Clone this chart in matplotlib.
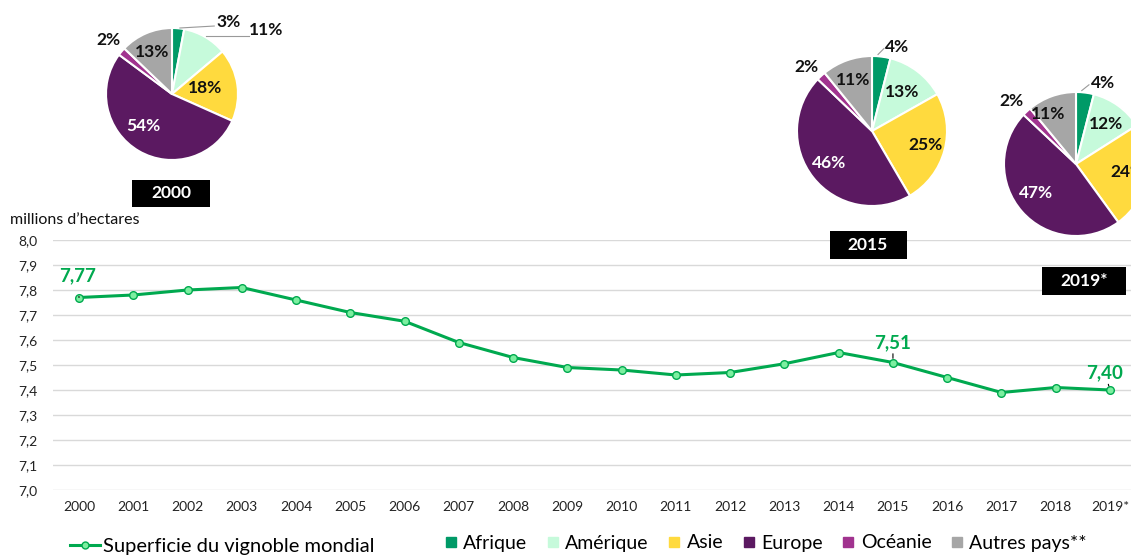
import matplotlib
matplotlib.use("Agg")
import matplotlib.pyplot as plt
from matplotlib.lines import Line2D
from matplotlib.patches import Rectangle

plt.rcParams['font.family'] = ['Lato', 'DejaVu Sans']

# ---------------- data ----------------
years = ["2000", "2001", "2002", "2003", "2004", "2005", "2006", "2007", "2008", "2009",
         "2010", "2011", "2012", "2013", "2014", "2015", "2016", "2017", "2018", "2019*"]
surface = [7.77, 7.78, 7.80, 7.81, 7.76, 7.71, 7.675, 7.59, 7.53, 7.49,
           7.48, 7.46, 7.47, 7.505, 7.55, 7.51, 7.45, 7.39, 7.41, 7.40]
highlight_idx = [0, 15, 19]
highlight_lbl = ["7,77", "7,51", "7,40"]

yticks = [7.0, 7.1, 7.2, 7.3, 7.4, 7.5, 7.6, 7.7, 7.8, 7.9, 8.0]
ytick_labels = ["7,0", "7,1", "7,2", "7,3", "7,4", "7,5", "7,6", "7,7", "7,8", "7,9", "8,0"]

regions = ["Afrique", "Amérique", "Asie", "Europe", "Océanie", "Autres pays**"]
pie_2000 = [3, 11, 18, 54, 2, 13]
pie_2015 = [4, 13, 25, 46, 2, 11]
pie_2019 = [4, 12, 24, 47, 2, 11]
pie_years = ["2000", "2015", "2019*"]

colors = ["#009a67", "#c6fadb", "#ffda3e", "#5b1961", "#a1338f", "#a6a6a6"]
green = "#00a94f"

W, H = 1131, 555
fig = plt.figure(figsize=(W / 100, H / 100), dpi=100)

def fx(px):
    return px / W

def fy(py):
    return 1 - py / H

# ---------------- line chart ----------------
x0px, stepx = 79, (1110 - 79) / 19
left_px, right_px = 53, 1131
ax = fig.add_axes([fx(left_px), fy(490), fx(right_px - left_px), 250 / H])
xs = list(range(len(years)))
ax.plot(xs, surface, color=green, lw=2.2, marker='o', ms=5.5,
        mfc="#7cefa0", mec=green, mew=1.0, zorder=3)
ax.set_xlim(-(x0px - left_px) / stepx, 19 + (right_px - 1110) / stepx)
ax.set_ylim(7.0, 8.0)
ax.set_yticks(yticks)
ax.set_yticklabels(ytick_labels)
ax.set_xticks(xs)
ax.set_xticklabels(years)
ax.tick_params(axis='both', length=0, labelsize=10, colors="#222222")
ax.tick_params(axis='y', pad=11)
ax.tick_params(axis='x', pad=8)
ax.grid(axis='y', color="#d9d9d9", lw=1)
ax.set_axisbelow(True)
for s in ax.spines.values():
    s.set_visible(False)

offsets = [(-1, 22), (0, 20), (-5, 17)]
for i, lbl, off in zip(highlight_idx, highlight_lbl, offsets):
    ax.annotate(lbl, xy=(xs[i], surface[i]), xytext=off, textcoords='offset pixels',
                ha='center', va='center', color=green, fontsize=13.5, fontweight='bold',
                arrowprops=dict(arrowstyle='-', color='black', lw=0.8,
                                shrinkA=7, shrinkB=3))

fig.text(fx(10), fy(220), "millions d\u2019hectares", fontsize=11.5, ha='left', va='center',
         color="#111111")

# ---------------- pies ----------------
pie_specs = [
    (pie_2000, (172, 94), 66,
     [(0.85, 1.09), (1.43, 0.97), (0.5, 0.09), (-0.44, -0.48), (-0.97, 0.82), (-0.30, 0.64)],
     (171, 193, 78, 27)),
    (pie_2015, (872, 131), 75,
     [(0.33, 1.12), (0.40, 0.52), (0.71, -0.19), (-0.57, -0.43), (-0.88, 0.85), (-0.25, 0.68)],
     (868, 245, 77, 28)),
    (pie_2019, (1076, 164), 72,
     [(0.375, 1.125), (0.42, 0.56), (0.72, -0.11), (-0.56, -0.40), (-0.89, 0.875), (-0.39, 0.69)],
     (1084, 281, 84, 28)),
]

leaders = {
    0: [((0.12, 1.0), (0.64, 1.03)), ((0.52, 0.88), (1.16, 0.88))],
    1: [((0.08, 1.02), (0.16, 1.1))],
    2: [((0.08, 1.02), (0.18, 1.1))],
}

for k, (vals, (cx, cy), r, lpos, box) in enumerate(pie_specs):
    pax = fig.add_axes([fx(cx - r), fy(cy + r), fx(2 * r), 2 * r / H])
    pax.pie(vals, colors=colors, startangle=90, counterclock=False, radius=1,
            wedgeprops=dict(edgecolor='white', linewidth=1.5))
    pax.set_xlim(-1, 1)
    pax.set_ylim(-1, 1)
    pax.set_aspect('equal')
    pax.axis('off')
    for j, (v, (lx, ly)) in enumerate(zip(vals, lpos)):
        col = 'white' if j == 3 else '#111111'
        pax.text(lx, ly, f"{v}%", ha='center', va='center', fontsize=12.5,
                 fontweight='bold', color=col, clip_on=False)
    for (a, b) in leaders[k]:
        pax.plot([a[0], b[0]], [a[1], b[1]], color="#999999", lw=0.8, clip_on=False)
    bx, by, bw, bh = box
    fig.patches.append(Rectangle((fx(bx - bw / 2), fy(by + bh / 2)), fx(bw), bh / H,
                                 transform=fig.transFigure, facecolor='black',
                                 edgecolor='none'))
    fig.text(fx(bx), fy(by), pie_years[k], ha='center', va='center', color='white',
             fontsize=12.5, fontweight='bold')

# ---------------- legends ----------------
h_line = [Line2D([0], [0], color=green, lw=2.2, marker='o', ms=5, mfc="#7cefa0",
                 mec=green)]
leg1 = fig.legend(h_line, ["Superficie du vignoble mondial"], loc='center left',
                  bbox_to_anchor=(fx(62), fy(546)), frameon=False, fontsize=14.5,
                  handlelength=1.5, handletextpad=0.15, borderaxespad=0)
h_sq = [Line2D([0], [0], color=c, marker='s', ls='none', ms=7) for c in colors]
leg2 = fig.legend(h_sq, regions, loc='center left', bbox_to_anchor=(fx(437), fy(543)),
                  ncol=6, frameon=False, fontsize=14, handlelength=0.6,
                  handletextpad=0.35, columnspacing=1.0, borderaxespad=0)

fig.savefig("out.png", dpi=100)
